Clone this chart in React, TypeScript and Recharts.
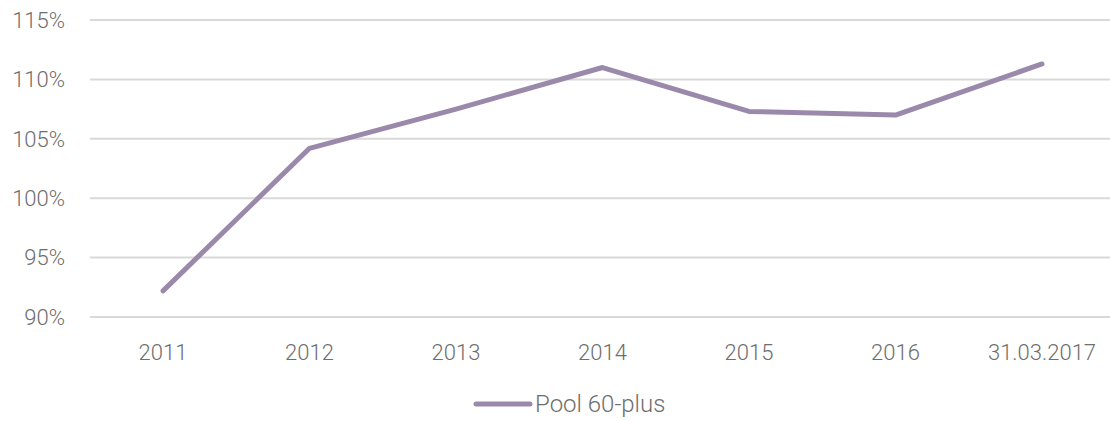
import React from "react";
import { LineChart, Line, XAxis, YAxis, CartesianGrid, Legend } from "recharts";

const categories = ["2011", "2012", "2013", "2014", "2015", "2016", "31.03.2017"];
const poolValues = [92.2, 104.2, 107.5, 111.0, 107.3, 107.0, 111.3];
const yTicks = [90, 95, 100, 105, 110, 115];
const seriesName = "Pool 60-plus";

const data = categories.map((c, i) => ({ name: c, pool: poolValues[i] }));

const LINE_COLOR = "#9a89aa";
const TEXT_COLOR = "#6e6e6e";
const FONT = "Roboto, 'DejaVu Sans', sans-serif";

const LegendContent = () => (
  <svg width={220} height={30} style={{ display: "block", marginLeft: 473 }}>
    <line x1={3} y1={15} x2={57} y2={15} stroke={LINE_COLOR} strokeWidth={5} strokeLinecap="round" />
    <text x={62} y={15} dy="0.35em" fill={TEXT_COLOR} fontFamily={FONT} fontWeight={300} fontSize={24}>
      {seriesName}
    </text>
  </svg>
);

export default function App() {
  return (
    <div style={{ position: "absolute", left: 0, top: 0, width: 1110, height: 421, background: "#fff" }}>
      <LineChart
        width={1110}
        height={421}
        data={data}
        margin={{ top: 20, right: 0, left: 0, bottom: 0 }}
      >
        <CartesianGrid vertical={false} stroke="#d9d9d9" strokeWidth={2} />
        <XAxis
          dataKey="name"
          axisLine={false}
          tickLine={false}
          tickSize={0}
          tickMargin={27}
          height={72}
          padding={{ left: 73, right: 68 }}
          tick={{ fill: TEXT_COLOR, fontFamily: FONT, fontWeight: 300, fontSize: 22 }}
          interval={0}
        />
        <YAxis
          domain={[90, 115]}
          ticks={yTicks}
          axisLine={false}
          tickLine={false}
          tickSize={0}
          tickMargin={25}
          width={90}
          tickFormatter={(v) => `${v}%`}
          tick={{ fill: TEXT_COLOR, fontFamily: FONT, fontWeight: 300, fontSize: 22 }}
        />
        <Legend
          verticalAlign="bottom"
          height={32}
          wrapperStyle={{ left: 0, width: 1110 }}
          content={<LegendContent />}
        />
        <Line
          type="linear"
          dataKey="pool"
          name={seriesName}
          stroke={LINE_COLOR}
          strokeWidth={5}
          strokeLinecap="round"
          strokeLinejoin="round"
          dot={false}
          activeDot={false}
          isAnimationActive={false}
        />
      </LineChart>
    </div>
  );
}
